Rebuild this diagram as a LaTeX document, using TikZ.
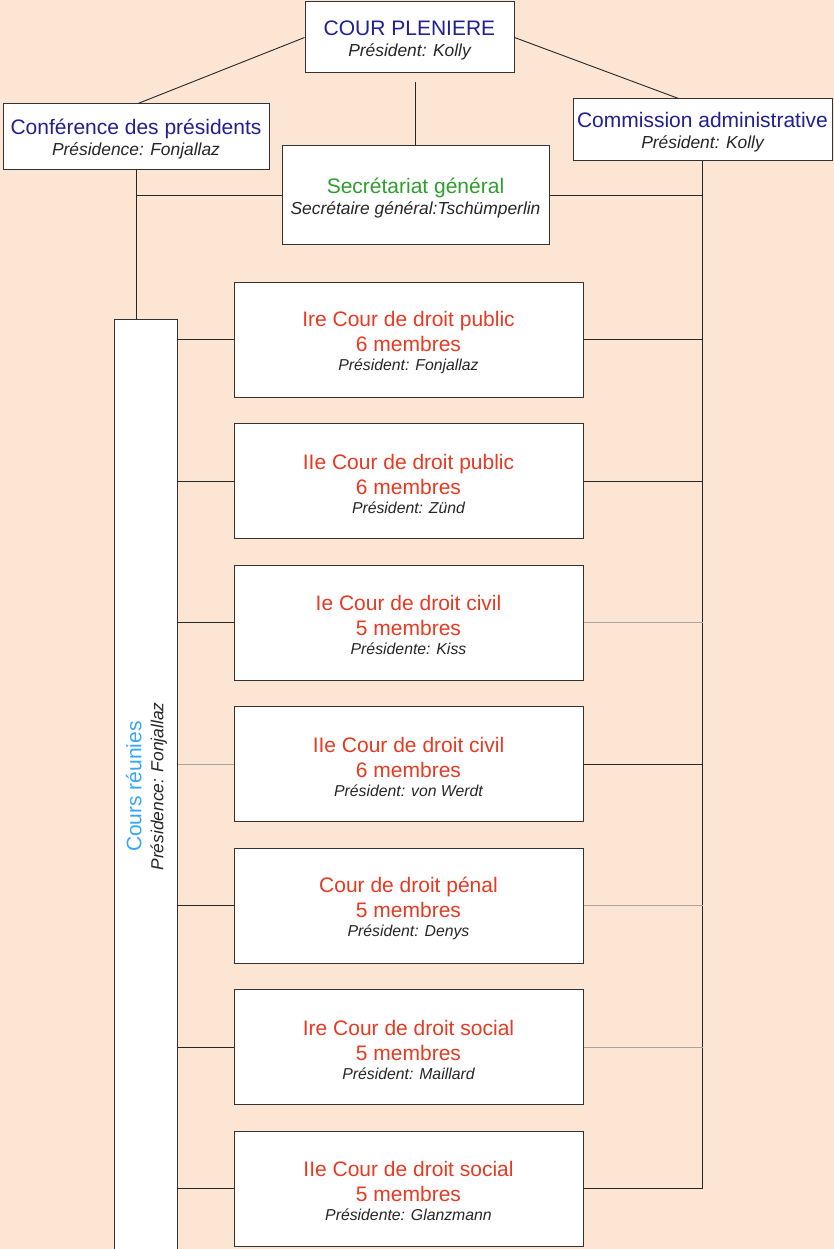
\documentclass[tikz,border=0pt]{standalone}
\usepackage{fontspec}
\setmainfont{Liberation Sans}
\usepackage{xcolor}
\definecolor{TF-fond}{HTML}{FDE5D4}
\definecolor{TF-bleu}{HTML}{202090}
\definecolor{TF-rouge}{HTML}{E63A22}
\definecolor{TF-vert}{HTML}{2E9E2E}
\definecolor{TF-ciel}{HTML}{35A7F5}
\definecolor{TF-gris}{HTML}{A8A39F}
\usetikzlibrary{positioning}

\newcommand{\titulaire}[1]{{\fontsize{17.4}{20}\selectfont\itshape\color{black!85}#1}}
\newcommand{\titulairecour}[1]{{\fontsize{15.8}{19}\selectfont\itshape\color{black!85}#1}}
\newcommand{\haut}{\rule{0pt}{20.5pt}}

\begin{document}
\begin{tikzpicture}[x=1pt,y=-1pt,
  boite/.style={draw=black!80,fill=white,line width=1pt,align=center,inner sep=2pt,text=TF-bleu,font=\fontsize{21}{25}\selectfont},
  cour/.style={boite,text=TF-rouge,minimum width=349pt,minimum height=115pt},
  trait/.style={line width=0.9pt,black!85},
  trait gris/.style={line width=0.9pt,TF-gris}]

\fill[TF-fond] (0,0) rectangle (834,1249);
\useasboundingbox (0,0) rectangle (834,1249);

\node[boite,minimum width=209pt,minimum height=71pt] (pleniere) at (409.5,37.5) {\haut COUR PLENIERE \\[-4pt]
\titulaire{Président: Kolly}
};

\node[boite,minimum width=266pt,minimum height=66pt] (conference) at (136,137) {\haut Conférence des présidents \\[-4pt]
\titulaire{Présidence: Fonjallaz}
};

\node[boite,minimum width=259pt,minimum height=62pt] (commission) at (702.5,130) {\haut Commission administrative \\[-4pt]
\titulaire{Président: Kolly}
};

\node[boite,text=TF-vert,minimum width=267pt,minimum height=99pt] (secretariat) at (415.5,195.5) {\haut Secrétariat général \\[-4pt]
\titulaire{Secrétaire général:Tschümperlin}
};

% cours reunies
\node[boite,minimum width=63pt,minimum height=941pt] (reunies) at (145.5,789.5) {};
\node[rotate=90,align=center,text=TF-ciel,font=\fontsize{21}{25}\selectfont] (reuniestexte) at ([xshift=1pt,yshift=3pt]reunies.center) {Cours réunies \\[-3pt]
\titulaire{Présidence: Fonjallaz}
};

% les cours
\node[cour] (courI) at (408.5,339.5) {\haut Ire Cour de droit public \\ 6 membres \\[-6pt]
\titulairecour{Président: Fonjallaz}
};

\node[cour] (courII) at (408.5,481) {\haut IIe Cour de droit public \\ 6 membres \\[-6pt]
\titulairecour{Président: Zünd}
};

\node[cour] (courIII) at (408.5,622.5) {\haut Ie Cour de droit civil \\ 5 membres \\[-6pt]
\titulairecour{Présidente: Kiss}
};

\node[cour] (courIV) at (408.5,764) {\haut IIe Cour de droit civil \\ 6 membres \\[-6pt]
\titulairecour{Président: von Werdt}
};

\node[cour] (courV) at (408.5,905.5) {\haut Cour de droit pénal \\ 5 membres \\[-6pt]
\titulairecour{Président: Denys}
};

\node[cour] (courVI) at (408.5,1047) {\haut Ire Cour de droit social \\ 5 membres \\[-6pt]
\titulairecour{Président: Maillard}
};

\node[cour] (courVII) at (408.5,1188.5) {\haut IIe Cour de droit social \\ 5 membres \\[-6pt]
\titulairecour{Présidente: Glanzmann}
};

\coordinate (pied) at ([yshift=-9pt]pleniere.south);

\draw[trait] (pleniere.west) to ([xshift=2pt]conference.north);
\draw[trait] (pleniere.east) to ([xshift=-24pt]commission.north);
\draw[trait] (secretariat.north) to (secretariat.north |- pied);
\draw[trait] (conference.south) to (conference.south |- reunies.north);
\draw[trait] (secretariat.west) to (secretariat.west -| conference.south);
\draw[trait] (secretariat.east) to (secretariat.east -| commission.south);
\draw[trait] (commission.south) |- (courVII.east);

\foreach \c in {I,II,III,V,VI,VII}
  \draw[trait] (reunies.east |- cour\c.west) to (cour\c.west);
\draw[trait gris] (reunies.east |- courIV.west) to (courIV.west);

\foreach \c in {I,II,IV}
  \draw[trait] (cour\c.east) to (cour\c.east -| commission.south);
\foreach \c in {III,V,VI}
  \draw[trait gris] (cour\c.east) to (cour\c.east -| commission.south);

\end{tikzpicture}
\end{document}
